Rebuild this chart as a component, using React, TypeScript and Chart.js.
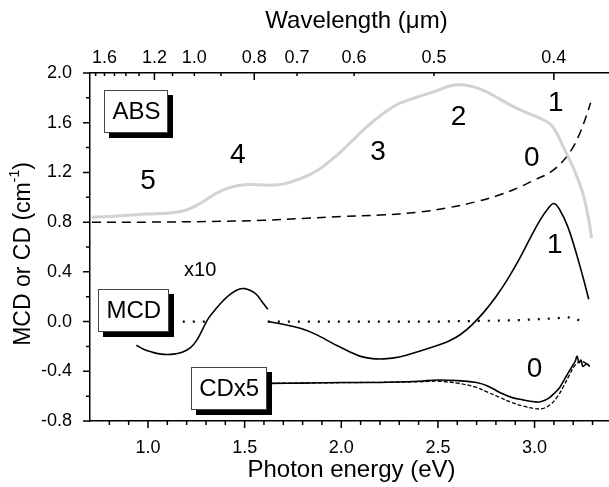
import React, { useEffect, useRef } from 'react';
import { Chart, registerables } from 'chart.js';

Chart.register(...registerables);

const FONT = '"Liberation Sans", Arial, Helvetica, sans-serif';
const HC = 1.23984; // eV * um

// Absorption (gray)
const absEnergy = [0.71, 0.8, 0.9, 1.0, 1.1, 1.17, 1.22, 1.28, 1.34, 1.4, 1.46, 1.52, 1.58, 1.65, 1.71, 1.76, 1.82, 1.88, 1.94, 2.0, 2.06, 2.12, 2.18, 2.24, 2.3, 2.4, 2.5, 2.56, 2.62, 2.68, 2.75, 2.82, 2.89, 2.96, 3.03, 3.08, 3.11, 3.15, 3.2, 3.25, 3.28, 3.295];
const absValue = [0.84, 0.845, 0.855, 0.865, 0.872, 0.885, 0.91, 0.96, 1.02, 1.065, 1.093, 1.103, 1.1, 1.098, 1.11, 1.135, 1.17, 1.22, 1.29, 1.37, 1.46, 1.55, 1.63, 1.7, 1.755, 1.81, 1.86, 1.895, 1.905, 1.89, 1.85, 1.79, 1.73, 1.68, 1.635, 1.59, 1.53, 1.4, 1.24, 1.03, 0.82, 0.67];

// Absorption background (dashed)
const bgEnergy = [0.71, 1.0, 1.3, 1.6, 1.8, 2.0, 2.2, 2.4, 2.55, 2.7, 2.82, 2.92, 3.0, 3.08, 3.14, 3.19, 3.23, 3.26, 3.29];
const bgValue = [0.8, 0.8, 0.805, 0.815, 0.83, 0.845, 0.857, 0.88, 0.915, 0.965, 1.02, 1.08, 1.14, 1.2, 1.28, 1.38, 1.5, 1.62, 1.76];

// MCD x10 segment
const mcd10Energy = [0.94, 0.98, 1.02, 1.06, 1.1, 1.14, 1.18, 1.22, 1.25, 1.28, 1.31, 1.35, 1.39, 1.43, 1.47, 1.5, 1.53, 1.56, 1.59, 1.62];
const mcd10Value = [-0.19, -0.225, -0.245, -0.26, -0.265, -0.26, -0.245, -0.21, -0.155, -0.07, 0.02, 0.1, 0.17, 0.225, 0.26, 0.265, 0.25, 0.22, 0.16, 0.1];

// MCD main segment
const mcdEnergy = [1.62, 1.68, 1.74, 1.8, 1.86, 1.92, 1.98, 2.04, 2.1, 2.16, 2.22, 2.3, 2.4, 2.5, 2.56, 2.62, 2.68, 2.74, 2.8, 2.86, 2.92, 2.98, 3.03, 3.07, 3.1, 3.13, 3.17, 3.21, 3.25, 3.28];
const mcdValue = [0.0, -0.015, -0.035, -0.06, -0.097, -0.145, -0.195, -0.24, -0.28, -0.298, -0.3, -0.285, -0.24, -0.19, -0.155, -0.1, -0.02, 0.08, 0.2, 0.34, 0.5, 0.68, 0.82, 0.91, 0.95, 0.9, 0.77, 0.58, 0.36, 0.18];

// Reference MCD (dotted); null = gap
const refEnergy = [1.18, 1.31, 1.31, 1.62, 2.5, 2.9, 3.1, 3.17, 3.22, 3.25];
const refValue = [0.0, 0.0, null, 0.0, 0.0, 0.01, 0.025, 0.035, 0.02, -0.02];

// CD x5 (solid)
const cdEnergy = [1.63, 1.8, 2.0, 2.2, 2.4, 2.5, 2.6, 2.7, 2.76, 2.82, 2.88, 2.94, 3.0, 3.03, 3.07, 3.1, 3.13, 3.16, 3.19, 3.21, 3.22, 3.23, 3.24, 3.25, 3.27, 3.285];
const cdValue = [-0.497, -0.495, -0.49, -0.49, -0.48, -0.47, -0.475, -0.49, -0.52, -0.57, -0.61, -0.63, -0.645, -0.645, -0.62, -0.58, -0.53, -0.45, -0.37, -0.32, -0.28, -0.33, -0.31, -0.36, -0.34, -0.36];

// CD x5 (dashed)
const cd2Energy = [1.63, 2.4, 2.5, 2.6, 2.7, 2.76, 2.82, 2.88, 2.94, 3.0, 3.04, 3.08, 3.12, 3.15, 3.18, 3.21, 3.24, 3.27, 3.285];
const cd2Value = [-0.497, -0.485, -0.48, -0.495, -0.53, -0.57, -0.61, -0.65, -0.68, -0.7, -0.7, -0.67, -0.6, -0.52, -0.43, -0.35, -0.32, -0.34, -0.36];

// Axes
const xMin = 0.7;
const xMax = 3.385;
const yMin = -0.8;
const yMax = 2.0;
const xMajorTicks = [1.0, 1.5, 2.0, 2.5, 3.0];
const xMinorTicks = [0.8, 0.9, 1.1, 1.2, 1.3, 1.4, 1.6, 1.7, 1.8, 1.9, 2.1, 2.2, 2.3, 2.4, 2.6, 2.7, 2.8, 2.9, 3.1, 3.2, 3.3];
const yMajorTicks = [-0.8, -0.4, 0.0, 0.4, 0.8, 1.2, 1.6, 2.0];
const yMinorTicks = [-0.6, -0.2, 0.2, 0.6, 1.0, 1.4, 1.8];
const wavelengthLabels = [1.6, 1.2, 1.0, 0.8, 0.7, 0.6, 0.5, 0.4];
const wavelengthMajor = [1.2, 0.8, 0.4];
const wavelengthMinor = [1.7, 1.6, 1.5, 1.4, 1.3, 1.1, 1.0, 0.9, 0.7, 0.6, 0.5];

// Annotations (data coordinates)
const noteText = ['5', '4', '3', '2', '1', '0', '1', '0'];
const noteEnergy = [1.0, 1.465, 2.19, 2.607, 3.11, 2.986, 3.105, 3.0];
const noteValue = [1.13, 1.34, 1.36, 1.645, 1.76, 1.31, 0.616, -0.38];
const scaleNoteText = ['x10'];
const scaleNoteEnergy = [1.27];
const scaleNoteValue = [0.41];
const boxText = ['ABS', 'MCD', 'CDx5'];
const boxEnergy = [0.94, 0.927, 1.42];
const boxValue = [1.694, 0.09, -0.54];

const pts = (xs: number[], ys: (number | null)[]) => xs.map((x, i) => ({ x, y: ys[i] }));

const decorPlugin = {
  id: 'decor',
  afterDatasetsDraw(chart: any) {
    const ctx: CanvasRenderingContext2D = chart.ctx;
    const xs = chart.scales.x;
    const ys = chart.scales.y;
    ctx.save();
    ctx.fillStyle = '#000';
    ctx.textAlign = 'center';
    ctx.textBaseline = 'middle';
    ctx.font = `28px ${FONT}`;
    noteText.forEach((t, i) => {
      ctx.fillText(t, xs.getPixelForValue(noteEnergy[i]), ys.getPixelForValue(noteValue[i]));
    });
    ctx.font = `20px ${FONT}`;
    scaleNoteText.forEach((t, i) => {
      ctx.fillText(t, xs.getPixelForValue(scaleNoteEnergy[i]), ys.getPixelForValue(scaleNoteValue[i]));
    });
    ctx.font = `24px ${FONT}`;
    boxText.forEach((t, i) => {
      const cx = xs.getPixelForValue(boxEnergy[i]);
      const cy = ys.getPixelForValue(boxValue[i]);
      const w = Math.round(ctx.measureText(t).width + 16);
      const h = 43;
      const l = Math.round(cx - w / 2);
      const tp = Math.round(cy - h / 2);
      ctx.fillStyle = '#000';
      ctx.fillRect(l + 5, tp + 5, w, h);
      ctx.fillStyle = '#fff';
      ctx.fillRect(l, tp, w, h);
      ctx.strokeStyle = '#444';
      ctx.lineWidth = 1;
      ctx.strokeRect(l + 0.5, tp + 0.5, w - 1, h - 1);
      ctx.fillStyle = '#000';
      ctx.fillText(t, cx, cy + 1);
    });
    ctx.restore();
  },
  afterDraw(chart: any) {
    const ctx: CanvasRenderingContext2D = chart.ctx;
    const xs = chart.scales.x;
    const ys = chart.scales.y;
    const xt = chart.scales.xTop;
    const a = chart.chartArea;
    ctx.save();
    ctx.strokeStyle = '#000';
    ctx.lineWidth = 1.5;
    ctx.beginPath();
    const hTick = (px: number, y0: number, len: number) => { ctx.moveTo(px, y0); ctx.lineTo(px, y0 + len); };
    xMajorTicks.forEach(v => hTick(xs.getPixelForValue(v), a.bottom, 7));
    xMinorTicks.forEach(v => hTick(xs.getPixelForValue(v), a.bottom, 4));
    wavelengthMajor.forEach(l => hTick(xt.getPixelForValue(HC / l), a.top, 7));
    wavelengthMinor.forEach(l => hTick(xt.getPixelForValue(HC / l), a.top, 3));
    yMajorTicks.forEach(v => { const py = ys.getPixelForValue(v); ctx.moveTo(a.left, py); ctx.lineTo(a.left - 7, py); });
    yMinorTicks.forEach(v => { const py = ys.getPixelForValue(v); ctx.moveTo(a.left, py); ctx.lineTo(a.left - 4, py); });
    ctx.stroke();

    // axis titles
    ctx.fillStyle = '#000';
    ctx.textAlign = 'center';
    ctx.textBaseline = 'middle';
    ctx.font = `24px ${FONT}`;
    const cxMid = (a.left + a.right) / 2 + 2;
    ctx.fillText('Photon energy (eV)', cxMid, 470);
    ctx.fillText('Wavelength (\u03bcm)', cxMid + 5, 21);

    // y title with superscript
    ctx.translate(24, (a.top + a.bottom) / 2 + 7);
    ctx.rotate(-Math.PI / 2);
    ctx.textAlign = 'left';
    ctx.font = `23px ${FONT}`;
    const p1 = 'MCD or CD (cm';
    const p3 = ')';
    const w1 = ctx.measureText(p1).width;
    const w3 = ctx.measureText(p3).width;
    ctx.font = `14px ${FONT}`;
    const p2 = '-1';
    const w2 = ctx.measureText(p2).width;
    const start = -(w1 + w2 + w3) / 2;
    ctx.font = `23px ${FONT}`;
    ctx.fillText(p1, start, 0);
    ctx.font = `14px ${FONT}`;
    ctx.fillText(p2, start + w1, -9);
    ctx.font = `23px ${FONT}`;
    ctx.fillText(p3, start + w1 + w2, 0);
    ctx.restore();
  },
};

export default function App() {
  const ref = useRef<HTMLCanvasElement>(null);
  useEffect(() => {
    if (!ref.current) return;
    const tickFont = { family: FONT, size: 18 };
    const line = { pointRadius: 0, tension: 0.4 };
    const chart = new Chart(ref.current, {
      type: 'line',
      data: {
        datasets: [
          { data: pts(absEnergy, absValue), borderColor: '#d2d2d2', borderWidth: 3, ...line },
          { data: pts(bgEnergy, bgValue), borderColor: '#000', borderWidth: 1.5, borderDash: [9, 6], ...line },
          { data: pts(refEnergy, refValue), borderColor: '#000', borderWidth: 2.2, borderDash: [2, 8], pointRadius: 0, spanGaps: false },
          { data: pts(mcd10Energy, mcd10Value), borderColor: '#000', borderWidth: 1.6, ...line },
          { data: pts(mcdEnergy, mcdValue), borderColor: '#000', borderWidth: 1.6, ...line },
          { data: pts(cd2Energy, cd2Value), borderColor: '#000', borderWidth: 1.3, borderDash: [4, 2], ...line },
          { data: pts(cdEnergy, cdValue), borderColor: '#000', borderWidth: 1.6, ...line },
        ] as any,
      },
      options: {
        responsive: false,
        animation: false,
        devicePixelRatio: 1,
        layout: { padding: 0 },
        plugins: { legend: { display: false }, tooltip: { enabled: false } },
        scales: {
          x: {
            type: 'linear', position: 'bottom', min: xMin, max: xMax,
            grid: { display: false, drawTicks: false },
            border: { display: true, color: '#000', width: 1.5 },
            ticks: { font: tickFont, color: '#000', padding: 16, maxRotation: 0, autoSkip: false, callback: (v: any) => Number(v).toFixed(1) },
            afterBuildTicks: (s: any) => { s.ticks = xMajorTicks.map(v => ({ value: v })); },
            afterFit: (s: any) => { s.height = 66; },
          },
          xTop: {
            type: 'linear', position: 'top', min: xMin, max: xMax,
            grid: { display: false, drawTicks: false },
            border: { display: true, color: '#000', width: 1.5 },
            ticks: { font: tickFont, color: '#000', padding: 4, maxRotation: 0, autoSkip: false, callback: (_v: any, i: number) => wavelengthLabels[i].toFixed(1) },
            afterBuildTicks: (s: any) => { s.ticks = wavelengthLabels.map(l => ({ value: HC / l })); },
            afterFit: (s: any) => { s.height = 73; },
          },
          y: {
            type: 'linear', position: 'left', min: yMin, max: yMax,
            grid: { display: false, drawTicks: false },
            border: { display: true, color: '#000', width: 1.5 },
            ticks: { font: tickFont, color: '#000', padding: 18, autoSkip: false, callback: (v: any) => Number(v).toFixed(1) },
            afterBuildTicks: (s: any) => { s.ticks = yMajorTicks.map(v => ({ value: v })); },
            afterFit: (s: any) => { s.width = 90; },
          },
        },
      } as any,
      plugins: [decorPlugin],
    });
    return () => chart.destroy();
  }, []);
  return (
    <div style={{ position: 'fixed', left: 0, top: 0, width: 609, height: 487, background: '#fff' }}>
      <canvas ref={ref} width={609} height={487} style={{ display: 'block' }} />
    </div>
  );
}
